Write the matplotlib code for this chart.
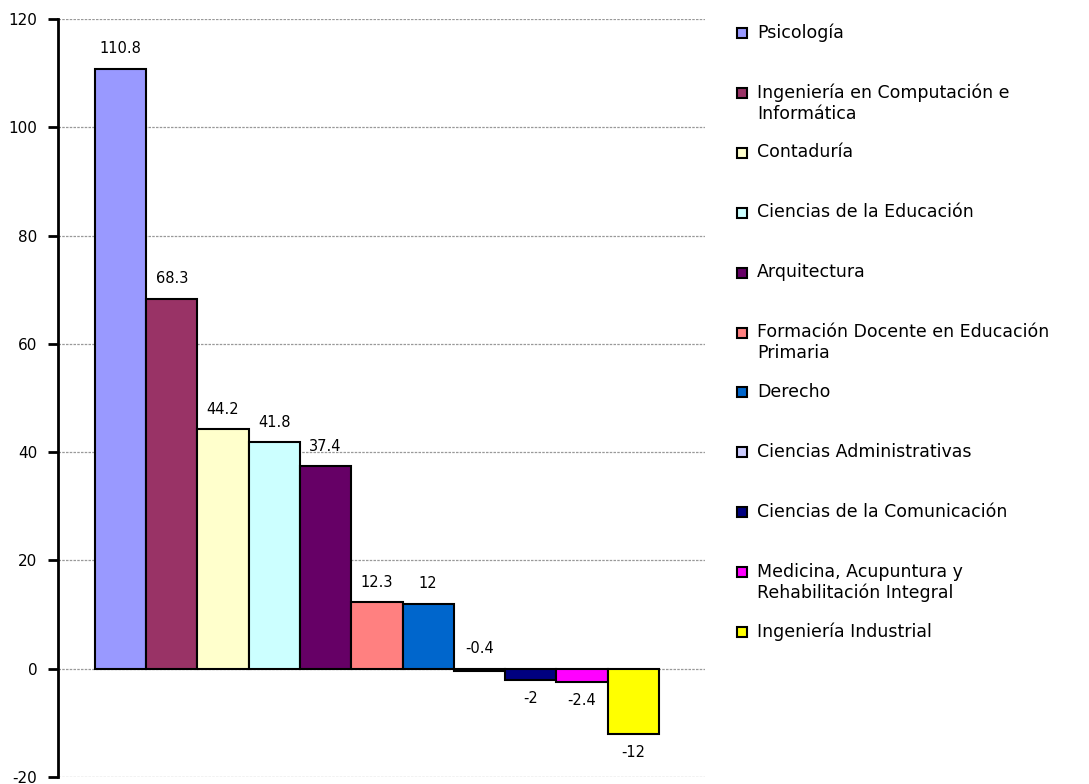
import matplotlib
matplotlib.use("Agg")
import matplotlib.pyplot as plt
from matplotlib.patches import Rectangle

categories = [
    "Psicología",
    "Ingeniería en Computación e\nInformática",
    "Contaduría",
    "Ciencias de la Educación",
    "Arquitectura",
    "Formación Docente en Educación\nPrimaria",
    "Derecho",
    "Ciencias Administrativas",
    "Ciencias de la Comunicación",
    "Medicina, Acupuntura y\nRehabilitación Integral",
    "Ingeniería Industrial",
]
values = [110.8, 68.3, 44.2, 41.8, 37.4, 12.3, 12, -0.4, -2, -2.4, -12]
value_labels = ["110.8", "68.3", "44.2", "41.8", "37.4", "12.3", "12", "-0.4", "-2", "-2.4", "-12"]
colors = ["#9999FF", "#993366", "#FFFFCC", "#CCFFFF", "#660066", "#FF8080",
          "#0066CC", "#CCCCFF", "#000080", "#FF00FF", "#FFFF00"]
yticks = [-20, 0, 20, 40, 60, 80, 100, 120]

plt.rcParams['font.family'] = ['DejaVu Sans']

W, H = 1089, 784
fig = plt.figure(figsize=(W / 100, H / 100), dpi=100)
ax = fig.add_axes([58 / W, 1 - 777 / H, (705 - 58) / W, (777 - 19) / H])

x = list(range(len(values)))
ax.bar(x, values, width=1.0, color=colors, edgecolor="black", linewidth=1.5, zorder=3)

for xi, v, lab in zip(x, values, value_labels):
    if v >= -1:
        ax.annotate(lab, (xi, max(v, 0)), xytext=(0, 9), textcoords="offset points",
                    ha="center", va="bottom", fontsize=10.5)
    else:
        ax.annotate(lab, (xi, v), xytext=(0, -8), textcoords="offset points",
                    ha="center", va="top", fontsize=10.5)

ax.set_ylim(-20, 120)
ax.set_xlim(-1.22, 11.4)
ax.set_yticks(yticks)
ax.set_yticklabels([str(t) for t in yticks], fontsize=11)
ax.set_xticks([])
ax.yaxis.grid(True, color="#999999", linestyle=(0, (2, 1)), linewidth=0.9, zorder=0)
for s in ["top", "right", "bottom"]:
    ax.spines[s].set_visible(False)
ax.spines["left"].set_linewidth(2)
ax.tick_params(axis="y", direction="out", length=7, width=2, pad=8)

# legend (drawn in figure pixel coordinates, Excel style)
y0 = 33
step = 59.9
for i, (name, c) in enumerate(zip(categories, colors)):
    yc = y0 + step * i
    fig.patches.append(Rectangle((737 / W, 1 - (yc + 5) / H), 10 / W, 10 / H,
                                 transform=fig.transFigure, facecolor=c,
                                 edgecolor="black", linewidth=1.5))
    fig.text(757 / W, 1 - (yc - 9.5) / H, name, fontsize=12.5, va="top", ha="left",
             linespacing=1.2)

fig.savefig("out.png", dpi=100)
